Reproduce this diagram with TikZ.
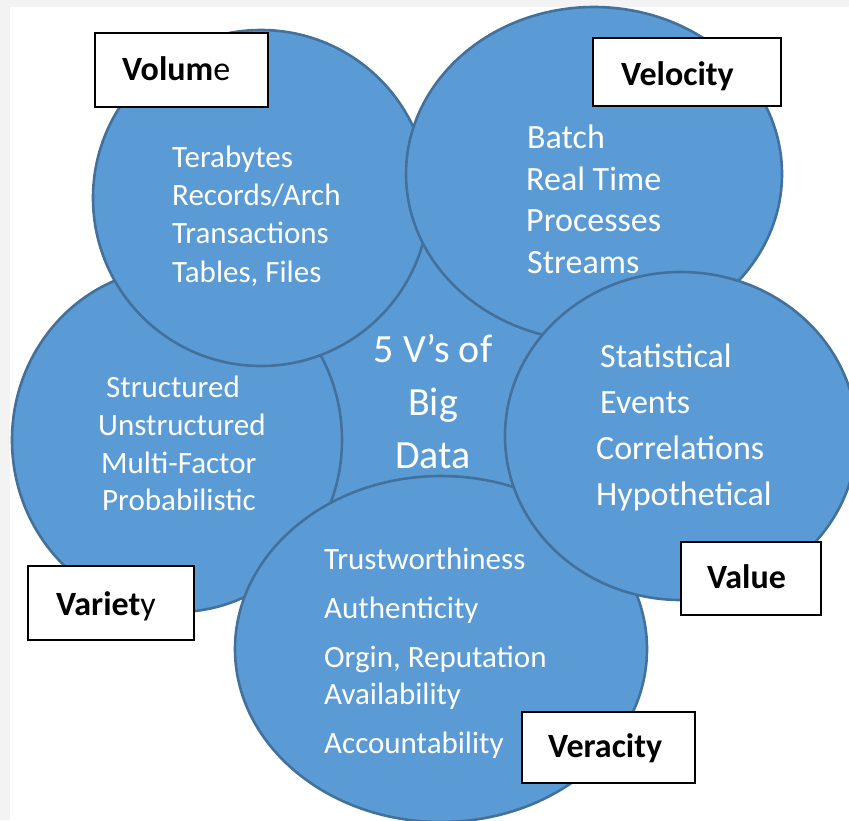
\documentclass[tikz,border=0pt]{standalone}
\usepackage{fontspec}
\setmainfont{Carlito}
\usetikzlibrary{shapes.geometric}
\definecolor{bfill}{HTML}{5B9BD5}
\definecolor{bborder}{HTML}{41719C}
\definecolor{pagebg}{HTML}{F3F3F3}
\tikzset{
  bubble/.style={ellipse, draw=bborder, fill=bfill, line width=2.6pt, inner sep=0pt, outer sep=0pt},
  itemA/.style={anchor=base west, text=white, inner sep=0pt, font=\fontsize{31}{31}\selectfont},
  itemB/.style={anchor=base west, text=white, inner sep=0pt, font=\fontsize{34}{34}\selectfont},
  hub/.style={anchor=base, text=white, inner sep=0pt, font=\fontsize{40}{40}\selectfont},
  tagbox/.style={draw=black, fill=white, line width=1.4pt, inner sep=0pt},
  tagtext/.style={anchor=base west, inner sep=0pt, font=\fontsize{34}{34}\selectfont},
}
\begin{document}
\begin{tikzpicture}[x=1pt,y=-1pt]
\useasboundingbox (0,0) rectangle (849,820);
\fill[pagebg] (0,0) rectangle (849,820);
\fill[white] (10,7) rectangle (849,820);

% bubbles (drawing order = stacking order)
\node[bubble, minimum width=330pt, minimum height=330pt] (hubc) at (432,410) {};
\node[bubble, minimum width=330pt, minimum height=344pt] (variety) at (177,440) {};
\node[bubble, minimum width=336pt, minimum height=336pt] (volume) at (261,198) {};
\node[bubble, minimum width=376pt, minimum height=334pt] (velocity) at (594,174) {};
\node[bubble, minimum width=412pt, minimum height=346pt] (veracity) at (441,649) {};
\node[bubble, minimum width=352pt, minimum height=328pt] (value) at (681,436) {};

% centre text
\node[hub] (h1) at (433,362) {5 V’s of};
\node[hub] (h2) at (433,415) {Big};
\node[hub] (h3) at (433,468) {Data};

% Volume items
\node[itemA] (vo1) at (172,167) {Terabytes};
\node[itemA] (vo2) at (172,205) {Records/Arch};
\node[itemA] (vo3) at (172,243) {Transactions};
\node[itemA] (vo4) at (172,282) {Tables, Files};

% Velocity items
\node[itemB] (ve1) at (527,148) {Batch};
\node[itemB] (ve2) at (526,190) {Real Time};
\node[itemB] (ve3) at (526,231) {Processes};
\node[itemB] (ve4) at (527,273) {Streams};

% Value items
\node[itemB] (va1) at (600,367) {Statistical};
\node[itemB] (va2) at (600,413) {Events};
\node[itemB] (va3) at (596,459) {Correlations};
\node[itemB] (va4) at (596,505) {Hypothetical};

% Variety items
\node[itemA] (vr1) at (106,397) {Structured};
\node[itemA] (vr2) at (98,435) {Unstructured};
\node[itemA] (vr3) at (101,473) {Multi-Factor};
\node[itemA] (vr4) at (102,510) {Probabilistic};

% Veracity items
\node[itemA] (vc1) at (324,569) {Trustworthiness};
\node[itemA] (vc2) at (324,618) {Authenticity};
\node[itemA] (vc3) at (324,667) {Orgin, Reputation};
\node[itemA] (vc4) at (324,704) {Availability};
\node[itemA] (vc5) at (324,753) {Accountability};

% label boxes
\node[tagbox, minimum width=173pt, minimum height=74pt] (volbox) at (181.5,70) {};
\node[tagtext] (voltxt) at (122,80) {\textbf{Volum}e};
\node[tagbox, minimum width=188pt, minimum height=68pt] (velbox) at (687,72) {};
\node[tagtext] (veltxt) at (621,85) {\textbf{Velocity}};
\node[tagbox, minimum width=166pt, minimum height=74pt] (varbox) at (111,603) {};
\node[tagtext] (vartxt) at (56,615) {\textbf{Variet}y};
\node[tagbox, minimum width=140pt, minimum height=73pt] (valbox) at (751,578.5) {};
\node[tagtext] (valtxt) at (707,588) {\textbf{Value}};
\node[tagbox, minimum width=173pt, minimum height=71pt] (verbox) at (608.5,747.5) {};
\node[tagtext] (vertxt) at (548,757) {\textbf{Veracity}};
\end{tikzpicture}
\end{document}
